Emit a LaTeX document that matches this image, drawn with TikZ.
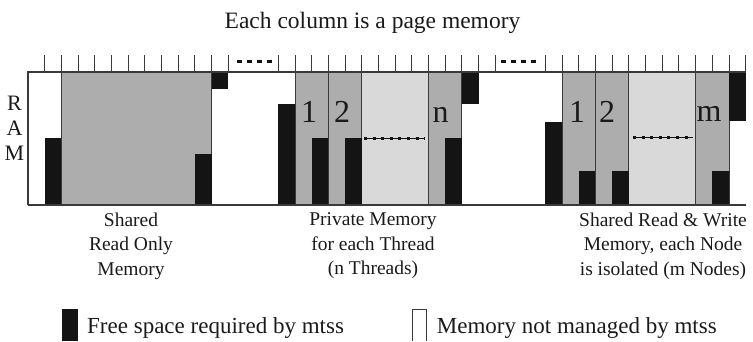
\documentclass[tikz,border=0pt]{standalone}
\usepackage{fontspec}
\setmainfont{Liberation Serif}
\definecolor{blk}{HTML}{141414}
\definecolor{midgray}{HTML}{ADADAD}
\definecolor{ltgray}{HTML}{D9D9D9}
\definecolor{edge}{HTML}{3A3A3A}
\definecolor{txt}{HTML}{1A1A1A}
\begin{document}
\begin{tikzpicture}[x=1pt,y=-1pt,
  free/.style={fill=blk},
  pg/.style={fill=midgray,draw=edge,line width=0.9pt},
  lt/.style={fill=ltgray,draw=edge,line width=0.9pt},
  frame/.style={draw=edge,line width=1.1pt},
  tick/.style={draw=edge,line width=0.9pt},
  gapdots/.style={draw=blk,line width=3.6pt,dash pattern=on 5pt off 5pt},
  midline/.style={draw=blk,line width=0.8pt},
  midsq/.style={draw=blk,line width=3pt,dash pattern=on 3pt off 5.6pt},
  num/.style={text=txt,inner sep=0pt,anchor=base,font=\fontsize{32}{36}\selectfont},
  lbl/.style={text=txt,inner sep=0pt,anchor=north,align=center,font=\fontsize{19.5}{24.5}\selectfont},
  leg/.style={text=txt,inner sep=0pt,anchor=base west,font=\fontsize{23}{27}\selectfont}]
\useasboundingbox (0,0) rectangle (753,341);
\def\w{16.69}
% ---------- section 1: shared read only ----------
\filldraw[pg] ({28+2*\w},72) rectangle ({28+11*\w},205);
\fill[free] ({28+1*\w},138) rectangle ({28+2*\w},205);
\fill[free] ({28+10*\w},154) rectangle ({28+11*\w},205);
\fill[free] ({28+11*\w},72) rectangle ({28+12*\w},89);
% ---------- section 2: private memory ----------
\fill[free] ({28+15*\w},104) rectangle ({28+16*\w},205);
\filldraw[pg] ({28+16*\w},72) rectangle ({28+18*\w},205);
\filldraw[pg] ({28+18*\w},72) rectangle ({28+20*\w},205);
\filldraw[lt] ({28+20*\w},72) rectangle ({28+24*\w},205);
\filldraw[pg] ({28+24*\w},72) rectangle ({28+26*\w},205);
\fill[free] ({28+17*\w},138) rectangle ({28+18*\w},205);
\fill[free] ({28+19*\w},138) rectangle ({28+20*\w},205);
\fill[free] ({28+25*\w},138) rectangle ({28+26*\w},205);
\fill[free] ({28+26*\w},72) rectangle ({28+27*\w},104);
\draw[midline] (364,138) -- (425,138);
\draw[midsq] (364,138) -- (425,138);
% ---------- section 3: shared read & write ----------
\fill[free] ({28+31*\w},121.7) rectangle ({28+32*\w},205);
\filldraw[pg] ({28+32*\w},72) rectangle ({28+34*\w},205);
\filldraw[pg] ({28+34*\w},72) rectangle ({28+36*\w},205);
\filldraw[lt] ({28+36*\w},72) rectangle ({28+40*\w},205);
\filldraw[pg] ({28+40*\w},72) rectangle ({28+42*\w},205);
\fill[free] ({28+33*\w},171) rectangle ({28+34*\w},205);
\fill[free] ({28+35*\w},171) rectangle ({28+36*\w},205);
\fill[free] ({28+41*\w},171) rectangle ({28+42*\w},205);
\fill[free] ({28+42*\w},72) rectangle ({28+43*\w},120.7);
\draw[midline] (633,137) -- (693,137);
\draw[midsq] (633,137) -- (693,137);
% ---------- frame and ticks ----------
\draw[frame] (28,205) -- (28,72) -- ({28+43*\w},72);
\draw[frame] (28,205) -- ({28+43*\w},205);
\foreach \k in {1,...,12,15,16,...,28,31,32,...,43}
  \draw[tick] ({28+\k*\w},55) -- ({28+\k*\w},72);
\draw[gapdots] (237,61.5) -- (272,61.5);
\draw[gapdots] (501,61.5) -- (536,61.5);
% ---------- texts ----------
\node[text=txt,inner sep=0pt,anchor=base,font=\fontsize{23.5}{28}\selectfont] (title) at (372.5,28) {Each column is a page memory};
\node[text=txt,inner sep=0pt,anchor=north,align=center,font=\fontsize{22}{25}\selectfont] (ram) at (14.5,95.5) {R\\A\\M};
\node[num] (p1) at (309,122) {1};
\node[num] (p2) at (342,122.5) {2};
\node[num] (pn) at (440.5,122.5) {n};
\node[num] (s1) at (577,122.5) {1};
\node[num] (s2) at (607,122.5) {2};
\node[num] (sm) at (709,121.7) {m};
\node[lbl] (lro) at (131,212.7) {Shared\\Read Only\\Memory};
\node[lbl] (lpm) at (373,212.7) {Private Memory\\for each Thread\\(n Threads)};
\node[lbl] (lrw) at (663,212.7) {Shared Read \& Write\\Memory, each Node\\is isolated (m Nodes)};
% ---------- legend ----------
\fill[free] (62,309) rectangle (78,341);
\draw[edge,line width=0.9pt] (412,341) -- (412,309) -- (426.7,309) -- (426.7,341);
\node[leg] (lfree) at (87,333) {Free space required by mtss};
\node[leg] (lnot) at (436.7,333) {Memory not managed by mtss};
\end{tikzpicture}
\end{document}
